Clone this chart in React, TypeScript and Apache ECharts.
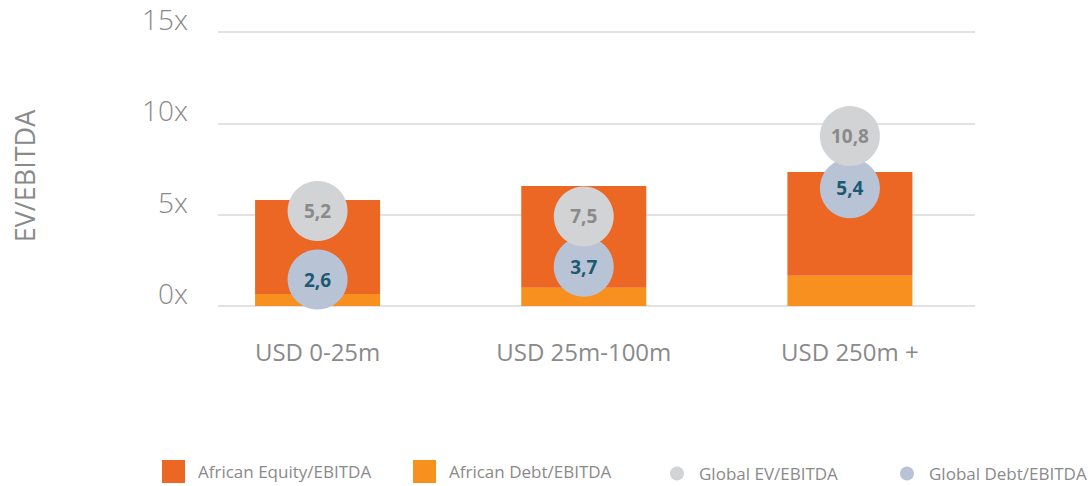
import React, { useEffect, useRef } from "react";
import * as echarts from "echarts";

const categories = ["USD 0-25m", "USD 25m-100m", "USD 250m +"];
const africanDebt = [0.66, 1.0, 1.66];
const africanEquity = [5.14, 5.57, 5.67];
const globalEvLabels = [5.2, 7.5, 10.8];
const globalEvPos = [5.2, 4.9, 9.3];
const globalDebtLabels = [2.6, 3.7, 5.4];
const globalDebtPos = [1.45, 2.15, 6.45];
const yTicks = [0, 5, 10, 15];

const FONT = "'Open Sans', sans-serif";
const GRAY = "#8a8a8a";

const fmt = (v: number) => v.toFixed(1).replace(".", ",");

export default function App() {
  const ref = useRef<HTMLDivElement>(null);
  useEffect(() => {
    if (!ref.current) return;
    const chart = echarts.init(ref.current, null, { renderer: "svg" });
    const legendBase = (name: string, left: number, top: number, size: number, pad: number, icon?: string) => ({
      data: [name],
      left,
      top,
      padding: 0,
      itemWidth: size,
      itemHeight: size,
      icon,
      textStyle: { color: GRAY, fontSize: 17, fontFamily: FONT, padding: [0, 0, 0, pad] },
    });
    chart.setOption({
      animation: false,
      textStyle: { fontFamily: FONT },
      grid: [
        { left: 184.5, right: 107, top: 32, bottom: 180 },
        { left: 218, right: 115, top: 32, bottom: 180 },
      ],
      legend: [
        legendBase("African Equity/EBITDA", 162, 460, 23, 8, "rect"),
        legendBase("African Debt/EBITDA", 413, 460, 23, 8, "rect"),
        legendBase("Global EV/EBITDA", 670, 465, 14, 10, "circle"),
        legendBase("Global Debt/EBITDA", 900, 465, 14, 10, "circle"),
      ],
      xAxis: [
        {
          type: "category",
          gridIndex: 0,
          data: categories,
          axisLine: { show: false },
          axisTick: { show: false },
          axisLabel: { color: GRAY, fontSize: 24, fontFamily: FONT, margin: 33 },
        },
        { type: "value", gridIndex: 1, min: 0, max: 1, show: false },
      ],
      yAxis: [
        {
          type: "value",
          gridIndex: 0,
          min: 0,
          max: 15,
          interval: 5,
          show: false,
          splitLine: { show: false },
        },
        {
          type: "value",
          gridIndex: 1,
          min: 0,
          max: 15,
          interval: 5,
          name: "EV/EBITDA",
          nameLocation: "middle",
          nameGap: 180,
          nameTextStyle: { color: GRAY, fontSize: 27, fontFamily: FONT, padding: [0, 0, 0, -14] },
          axisLine: { show: false },
          axisTick: { show: false },
          splitLine: { lineStyle: { color: "#d9d9d9", width: 1.5 } },
          axisLabel: {
            color: GRAY,
            fontSize: 28,
            fontFamily: FONT,
            fontWeight: 300,
            margin: 30,
            verticalAlign: "bottom",
            lineHeight: 26,
            formatter: (v: number) => (yTicks.includes(v) ? `${v}x` : ""),
          },
        },
      ],
      series: [
        {
          name: "African Debt/EBITDA",
          type: "bar",
          stack: "af",
          xAxisIndex: 0,
          yAxisIndex: 0,
          barWidth: 125,
          itemStyle: { color: "#F7901E" },
          data: africanDebt,
        },
        {
          name: "African Equity/EBITDA",
          type: "bar",
          stack: "af",
          xAxisIndex: 0,
          yAxisIndex: 0,
          barWidth: 125,
          itemStyle: { color: "#EC6624" },
          data: africanEquity,
        },
        {
          name: "Global Debt/EBITDA",
          type: "scatter",
          xAxisIndex: 0,
          yAxisIndex: 0,
          symbolSize: 60,
          itemStyle: { color: "#B8C4D6", opacity: 1 },
          data: globalDebtPos.map((p, i) => [i, p]),
          label: {
            show: true,
            position: "inside",
            color: "#1D5A72",
            fontSize: 19,
            fontWeight: "bold",
            fontFamily: FONT,
            formatter: (p: any) => fmt(globalDebtLabels[p.dataIndex]),
          },
        },
        {
          name: "Global EV/EBITDA",
          type: "scatter",
          xAxisIndex: 0,
          yAxisIndex: 0,
          symbolSize: 60,
          itemStyle: { color: "#D1D3D4", opacity: 1 },
          data: globalEvPos.map((p, i) => [i, p]),
          label: {
            show: true,
            position: "inside",
            color: "#8a8a8a",
            fontSize: 19,
            fontWeight: "bold",
            fontFamily: FONT,
            formatter: (p: any) => fmt(globalEvLabels[p.dataIndex]),
          },
        },
      ],
    });
    return () => chart.dispose();
  }, []);
  return <div ref={ref} style={{ width: 1090, height: 486, position: "absolute", left: 0, top: 0 }} />;
}
